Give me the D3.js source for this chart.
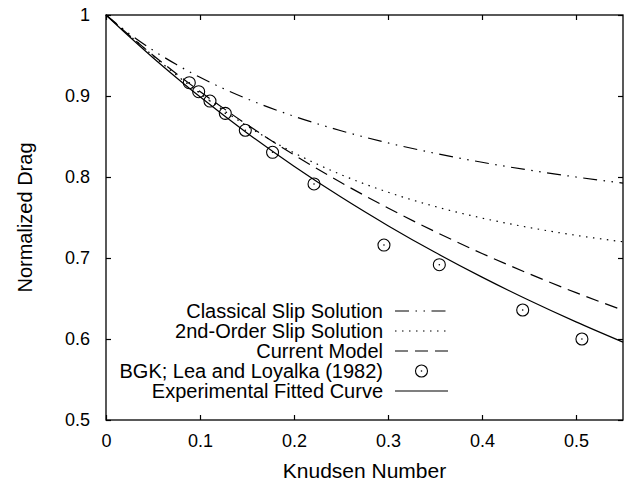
<!DOCTYPE html>
<html>
<head>
<meta charset="utf-8">
<script src="https://cdn.jsdelivr.net/npm/d3@7"></script>
<style>
  html, body { margin: 0; padding: 0; background: #fff; }
  svg { display: block; font-family: "Liberation Sans", Arial, Helvetica, sans-serif; }
</style>
</head>
<body>
<svg id="chart" width="632" height="485"></svg>
<script>
// ---- data ----
const knCurve = [0, 0.025, 0.05, 0.075, 0.1, 0.15, 0.2, 0.25, 0.3, 0.35, 0.4, 0.45, 0.5, 0.55];
const classicalSlip = [1, 0.9767, 0.9565, 0.9388, 0.9231, 0.8966, 0.875, 0.8571, 0.8421, 0.8293, 0.8182, 0.8085, 0.8, 0.7925];
const secondOrderSlip = [1, 0.9748, 0.9498, 0.9258, 0.9032, 0.8631, 0.8299, 0.8029, 0.7812, 0.7636, 0.7493, 0.7377, 0.728, 0.72];
const currentModel = [1, 0.9746, 0.9504, 0.9274, 0.9056, 0.8647, 0.8274, 0.7932, 0.7617, 0.7326, 0.7056, 0.6806, 0.6572, 0.6355];
const experimentalFit = [1, 0.9731, 0.9473, 0.9226, 0.899, 0.8544, 0.8133, 0.7752, 0.7399, 0.707, 0.6764, 0.6478, 0.6211, 0.5961];
const bgkKn = [0.0886, 0.0986, 0.1106, 0.1269, 0.1482, 0.1772, 0.2213, 0.2957, 0.3546, 0.4433, 0.5063];
const bgkDrag = [0.9164, 0.9053, 0.8938, 0.8786, 0.8577, 0.8305, 0.7914, 0.716, 0.6917, 0.6358, 0.600];
const xTicks = [0, 0.1, 0.2, 0.3, 0.4, 0.5];
const yTicks = [0.5, 0.6, 0.7, 0.8, 0.9, 1];
const xTitle = "Knudsen Number";
const yTitle = "Normalized Drag";
const legendLabels = ["Classical Slip Solution", "2nd-Order Slip Solution", "Current Model", "BGK; Lea and Loyalka (1982)", "Experimental Fitted Curve"];

// ---- layout ----
const L = 106, R = 623, T = 15, B = 420;
const svg = d3.select("#chart");
const x = d3.scaleLinear().domain([0, 0.55]).range([L, R]);
const y = d3.scaleLinear().domain([0.5, 1]).range([B, T]);
const tickFs = 18, xTitleFs = 21, yTitleFs = 20, legFs = 20;
const ink = "#000";
const dashClassical = "14,6.5,1.5,6.5,1.5,6.5";
const dashSecond = "1.5,5.5";
const dashCurrent = "13,7";

// axes (inward ticks)
const gx = svg.append("g").attr("transform", `translate(0,${B})`)
  .call(d3.axisBottom(x).tickValues(xTicks).tickSize(-5).tickPadding(14).tickFormat(d3.format("")));
const gy = svg.append("g").attr("transform", `translate(${L},0)`)
  .call(d3.axisLeft(y).tickValues(yTicks).tickSize(-5).tickPadding(16).tickFormat(d3.format("")));
const gxt = svg.append("g").attr("transform", `translate(0,${T})`)
  .call(d3.axisTop(x).tickValues(xTicks).tickSize(-5).tickFormat(""));
const gyr = svg.append("g").attr("transform", `translate(${R},0)`)
  .call(d3.axisRight(y).tickValues(yTicks).tickSize(-5).tickFormat(""));
[gx, gy, gxt, gyr].forEach(g => {
  g.select(".domain").remove();
  g.selectAll(".tick line").attr("stroke", ink).attr("stroke-width", 1.2);
  g.selectAll(".tick text").attr("fill", ink).style("font-size", tickFs + "px").style("font-family", "Liberation Sans, Arial, sans-serif");
});

// curves
const line = d3.line().x(d => x(d[0])).y(d => y(d[1])).curve(d3.curveMonotoneX);
const series = [
  { vals: classicalSlip, dash: dashClassical },
  { vals: secondOrderSlip, dash: dashSecond },
  { vals: currentModel, dash: dashCurrent },
  { vals: experimentalFit, dash: null }
];
series.forEach(s => {
  svg.append("path")
    .datum(knCurve.map((k, i) => [k, s.vals[i]]))
    .attr("d", line)
    .attr("fill", "none")
    .attr("stroke", ink)
    .attr("stroke-width", 1.2)
    .attr("stroke-dasharray", s.dash);
});

// BGK points
const pts = svg.append("g");
bgkKn.forEach((k, i) => {
  pts.append("circle").attr("cx", x(k)).attr("cy", y(bgkDrag[i])).attr("r", 6)
    .attr("fill", "none").attr("stroke", ink).attr("stroke-width", 1.1);
  pts.append("circle").attr("cx", x(k)).attr("cy", y(bgkDrag[i])).attr("r", 0.8).attr("fill", ink);
});

// border
svg.append("rect").attr("x", L).attr("y", T).attr("width", R - L).attr("height", B - T)
  .attr("fill", "none").attr("stroke", ink).attr("stroke-width", 1.3);

// axis titles
svg.append("text").attr("x", (L + R) / 2).attr("y", 478).attr("text-anchor", "middle")
  .style("font-size", xTitleFs + "px").attr("fill", ink).text(xTitle);
svg.append("text").attr("transform", `translate(32,${(T + B) / 2}) rotate(-90)`).attr("text-anchor", "middle")
  .style("font-size", yTitleFs + "px").attr("fill", ink).text(yTitle);

// legend
const legY0 = 311, legDy = 20, legTextX = 383, legS0 = 395, legS1 = 448;
const legendMarks = [dashClassical, dashSecond, dashCurrent, "circle", null];
legendLabels.forEach((lab, i) => {
  const yy = legY0 + i * legDy;
  svg.append("text").attr("x", legTextX).attr("y", yy + 7).attr("text-anchor", "end")
    .style("font-size", legFs + "px").attr("fill", ink).text(lab);
  if (legendMarks[i] === "circle") {
    svg.append("circle").attr("cx", (legS0 + legS1) / 2).attr("cy", yy).attr("r", 6)
      .attr("fill", "none").attr("stroke", ink).attr("stroke-width", 1.1);
    svg.append("circle").attr("cx", (legS0 + legS1) / 2).attr("cy", yy).attr("r", 0.8).attr("fill", ink);
  } else {
    svg.append("line").attr("x1", legS0).attr("x2", legS1).attr("y1", yy).attr("y2", yy)
      .attr("stroke", ink).attr("stroke-width", 1.2).attr("stroke-dasharray", legendMarks[i]);
  }
});
</script>
</body>
</html>
